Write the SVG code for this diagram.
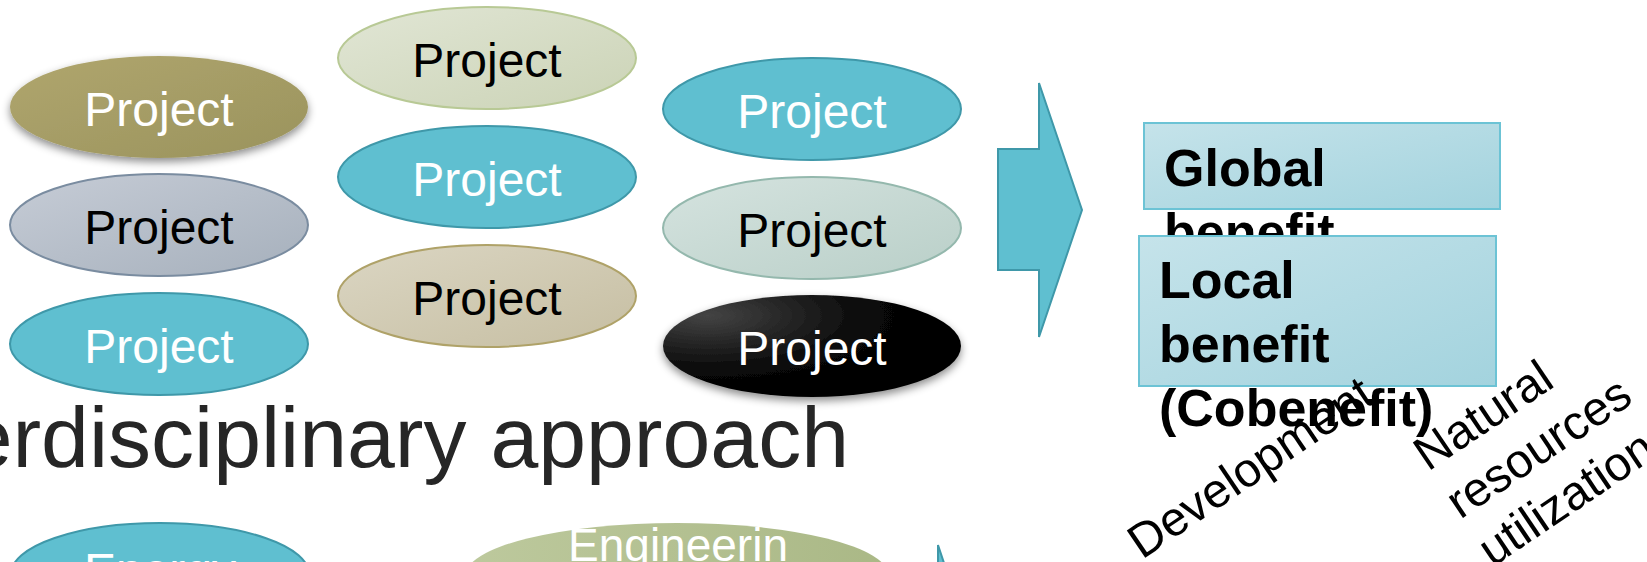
<svg xmlns="http://www.w3.org/2000/svg" width="1647" height="562" viewBox="0 0 1647 562">
<defs>
<linearGradient id="gOlive" x1="0" y1="0" x2="1" y2="1"><stop offset="0" stop-color="#B0A66E"/><stop offset="1" stop-color="#9A935D"/></linearGradient>
<linearGradient id="gGrey" x1="0" y1="0" x2="1" y2="1"><stop offset="0" stop-color="#C6CCD6"/><stop offset="1" stop-color="#A6B0BC"/></linearGradient>
<linearGradient id="gLgreen" x1="0" y1="0" x2="1" y2="1"><stop offset="0" stop-color="#E1E6D5"/><stop offset="1" stop-color="#CBD3B6"/></linearGradient>
<linearGradient id="gTan" x1="0" y1="0" x2="1" y2="1"><stop offset="0" stop-color="#DBD6C3"/><stop offset="1" stop-color="#C6BEA2"/></linearGradient>
<linearGradient id="gGgreen" x1="0" y1="0" x2="1" y2="1"><stop offset="0" stop-color="#D5E3DF"/><stop offset="1" stop-color="#B9CFC8"/></linearGradient>
<radialGradient id="gBlack" cx="0.15" cy="0.2" r="0.9"><stop offset="0" stop-color="#444444"/><stop offset="0.6" stop-color="#080808"/><stop offset="1" stop-color="#000000"/></radialGradient>
<linearGradient id="gBox" x1="0" y1="0" x2="1" y2="1"><stop offset="0" stop-color="#C5E3EA"/><stop offset="1" stop-color="#A3D3DE"/></linearGradient>
<linearGradient id="gEng" x1="0" y1="0" x2="1" y2="0"><stop offset="0" stop-color="#BDC99D"/><stop offset="1" stop-color="#AAB886"/></linearGradient>
<filter id="shadow" x="-20%" y="-20%" width="140%" height="160%"><feDropShadow dx="0" dy="4" stdDeviation="4" flood-color="#000" flood-opacity="0.45"/></filter>
</defs>
<style>
.pt{font-family:"Liberation Sans",Arial,sans-serif;font-size:48px;text-anchor:middle}
.w{fill:#FFFFFF}
.k{fill:#000000}
.teal{fill:#5FBFD0;stroke:#3F98A9;stroke-width:2}
.bt{font-family:"Liberation Sans",Arial,sans-serif;font-size:52px;font-weight:bold;fill:#000}
.rt{font-family:"Liberation Sans",Arial,sans-serif;font-size:48px;fill:#000}
.box{fill:url(#gBox);stroke:#6CC3D5;stroke-width:2}
</style>

<g id="p1"><ellipse cx="159" cy="107" rx="149" ry="51" fill="url(#gOlive)" filter="url(#shadow)"/><text class="pt w" x="159" y="126">Project</text></g>
<g id="p2"><ellipse cx="159" cy="225" rx="149" ry="51" fill="url(#gGrey)" stroke="#7A8CA0" stroke-width="2"/><text class="pt k" x="159" y="244">Project</text></g>
<g id="p3"><ellipse cx="159" cy="344" rx="149" ry="51" class="teal"/><text class="pt w" x="159" y="363">Project</text></g>

<g id="p4"><ellipse cx="487" cy="58" rx="149" ry="51" fill="url(#gLgreen)" stroke="#B8C995" stroke-width="2"/><text class="pt k" x="487" y="77">Project</text></g>
<g id="p5"><ellipse cx="487" cy="177" rx="149" ry="51" class="teal"/><text class="pt w" x="487" y="196">Project</text></g>
<g id="p6"><ellipse cx="487" cy="296" rx="149" ry="51" fill="url(#gTan)" stroke="#AFA268" stroke-width="2"/><text class="pt k" x="487" y="315">Project</text></g>

<g id="p7"><ellipse cx="812" cy="109" rx="149" ry="51" class="teal"/><text class="pt w" x="812" y="128">Project</text></g>
<g id="p8"><ellipse cx="812" cy="228" rx="149" ry="51" fill="url(#gGgreen)" stroke="#94B8AD" stroke-width="2"/><text class="pt k" x="812" y="247">Project</text></g>
<g id="p9"><ellipse cx="812" cy="346" rx="149" ry="51" fill="url(#gBlack)" filter="url(#shadow)"/><text class="pt w" x="812" y="365">Project</text></g>

<g id="connectors">
<polygon id="bigArrow" points="998,149 1039,149 1039,83 1082,210 1039,337 1039,270 998,270" fill="#5FBFD0" stroke="#3F98A9" stroke-width="2"/>
<polygon id="arrow2" points="938,545 945,566 938,566" fill="#5FBFD0" stroke="#3F98A9" stroke-width="2"/>
</g>

<g id="global">
<rect class="box" x="1144" y="123" width="356" height="86"/>
<text class="bt" x="1164" y="186">Global</text>
<text class="bt" x="1164" y="250">benefit</text>
</g>
<g id="local">
<rect class="box" x="1139" y="236" width="357" height="150"/>
<text class="bt" x="1159" y="298">Local</text>
<text class="bt" x="1159" y="362">benefit</text>
<text class="bt" x="1159" y="426">(Cobenefit)</text>
</g>

<g id="development"><text class="rt" transform="translate(1142,560) rotate(-34)">Development</text></g>
<g id="natural"><text class="rt" transform="translate(1428,472) rotate(-34)"><tspan x="0" y="0">Natural</tspan><tspan x="0" dy="57.6">resources</tspan><tspan x="0" dy="57.6">utilization</tspan></text></g>

<g id="title"><text x="849" y="467" font-family="'Liberation Sans',Arial,sans-serif" font-size="86" fill="#262626" text-anchor="end">erdisciplinary approach</text></g>

<g id="energy"><ellipse cx="160" cy="574" rx="149" ry="51" class="teal"/><text class="pt w" x="160" y="587">Energy</text></g>
<g id="engineering"><ellipse cx="677" cy="576" rx="212" ry="53" fill="url(#gEng)"/><text x="678" y="561" font-family="'Liberation Sans',Arial,sans-serif" font-size="46" fill="#FFFFFF" text-anchor="middle">Engineerin</text></g>
</svg>
